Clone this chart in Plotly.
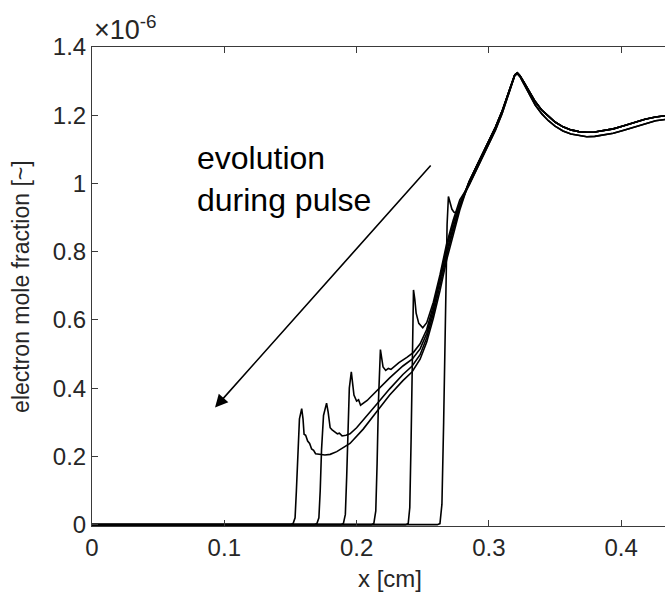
import plotly.graph_objects as go

# ---------------- data (units: 1e-6 mole fraction, x in cm) ----------------
c1_x = [0.0, 0.150, 0.152, 0.1535, 0.1545, 0.1555, 0.1568, 0.1585, 0.1595, 0.1603, 0.1615, 0.163, 0.1645,
        0.166, 0.1675, 0.169, 0.171, 0.173, 0.176, 0.180, 0.185, 0.195, 0.205, 0.215, 0.225, 0.235,
        0.242, 0.248, 0.253, 0.258, 0.263, 0.268, 0.273, 0.278]
c1_y = [0.0, 0.0, 0.003, 0.02, 0.10, 0.22, 0.31, 0.340, 0.31, 0.265, 0.262, 0.245, 0.238,
        0.222, 0.218, 0.208, 0.207, 0.204, 0.204, 0.206, 0.214, 0.238, 0.280, 0.330, 0.380, 0.422,
        0.448, 0.485, 0.535, 0.605, 0.685, 0.775, 0.852, 0.922]

c2_x = [0.0, 0.168, 0.170, 0.1715, 0.1725, 0.1735, 0.1750, 0.1773, 0.1785, 0.180, 0.1815, 0.1837, 0.1855,
        0.187, 0.189, 0.192, 0.195, 0.200, 0.205, 0.215, 0.225, 0.235, 0.242, 0.248, 0.253, 0.258,
        0.263, 0.268, 0.273, 0.278]
c2_y = [0.0, 0.0, 0.003, 0.02, 0.10, 0.22, 0.32, 0.356, 0.33, 0.284, 0.278, 0.270, 0.266,
        0.268, 0.260, 0.262, 0.266, 0.284, 0.306, 0.352, 0.398, 0.440, 0.465, 0.498, 0.548, 0.618,
        0.700, 0.788, 0.862, 0.930]

c3_x = [0.0, 0.188, 0.190, 0.1915, 0.1925, 0.1935, 0.1945, 0.196, 0.197, 0.198, 0.200, 0.2015, 0.203,
        0.2045, 0.206, 0.208, 0.210, 0.215, 0.225, 0.235, 0.242, 0.248, 0.253, 0.258, 0.263, 0.268,
        0.273, 0.278]
c3_y = [0.0, 0.0, 0.003, 0.03, 0.14, 0.28, 0.40, 0.448, 0.42, 0.38, 0.362, 0.366, 0.350,
        0.354, 0.358, 0.364, 0.372, 0.392, 0.430, 0.465, 0.485, 0.515, 0.560, 0.630, 0.712, 0.800,
        0.870, 0.935]

c4_x = [0.0, 0.211, 0.213, 0.2145, 0.2155, 0.2165, 0.218, 0.219, 0.220, 0.222, 0.224, 0.226, 0.229,
        0.232, 0.238, 0.243, 0.248, 0.253, 0.258, 0.263, 0.268, 0.273, 0.278]
c4_y = [0.0, 0.0, 0.003, 0.04, 0.18, 0.36, 0.513, 0.49, 0.462, 0.452, 0.458, 0.455, 0.466,
        0.475, 0.490, 0.505, 0.530, 0.572, 0.642, 0.722, 0.812, 0.882, 0.942]

c5_x = [0.0, 0.237, 0.239, 0.2402, 0.2412, 0.2422, 0.243, 0.244, 0.245, 0.247, 0.250, 0.253, 0.258,
        0.263, 0.268, 0.273, 0.278]
c5_y = [0.0, 0.0, 0.003, 0.05, 0.25, 0.50, 0.688, 0.66, 0.620, 0.590, 0.577, 0.592, 0.652,
        0.732, 0.822, 0.892, 0.952]

c6_x = [0.0, 0.261, 0.263, 0.2645, 0.2658, 0.2672, 0.2684, 0.2694, 0.2705, 0.272, 0.2735, 0.275, 0.277, 0.280]
c6_y = [0.0, 0.0, 0.003, 0.06, 0.30, 0.62, 0.88, 0.962, 0.945, 0.925, 0.916, 0.914, 0.925, 0.955]

# shared ascending part, peak and tail (two slightly offset groups)
tail_x = [0.285, 0.290, 0.295, 0.300, 0.305, 0.310, 0.314, 0.317, 0.3195, 0.3215, 0.3235, 0.326, 0.330,
          0.335, 0.340, 0.345, 0.350, 0.356, 0.362, 0.368, 0.374, 0.380, 0.386, 0.394, 0.402, 0.410,
          0.418, 0.426, 0.434]
tail_hi = [1.005, 1.045, 1.085, 1.125, 1.165, 1.212, 1.257, 1.292, 1.318, 1.324, 1.316, 1.300, 1.272,
           1.240, 1.215, 1.196, 1.180, 1.166, 1.157, 1.152, 1.150, 1.151, 1.154, 1.160, 1.169, 1.179,
           1.188, 1.195, 1.199]
tail_lo = [0.995, 1.035, 1.075, 1.115, 1.157, 1.205, 1.252, 1.289, 1.316, 1.322, 1.313, 1.295, 1.265,
           1.230, 1.204, 1.184, 1.168, 1.154, 1.145, 1.140, 1.137, 1.138, 1.141, 1.147, 1.156, 1.166,
           1.176, 1.184, 1.188]

x_ticks = [0, 0.1, 0.2, 0.3, 0.4]
x_tick_text = ["0", "0.1", "0.2", "0.3", "0.4"]
y_ticks = [0, 0.2, 0.4, 0.6, 0.8, 1.0, 1.2, 1.4]
y_tick_text = ["0", "0.2", "0.4", "0.6", "0.8", "1", "1.2", "1.4"]

curves = [(c1_x, c1_y, tail_hi), (c2_x, c2_y, tail_hi), (c3_x, c3_y, tail_hi),
          (c4_x, c4_y, tail_hi), (c5_x, c5_y, tail_lo), (c6_x, c6_y, tail_lo)]

FONT = "Liberation Sans, Arial, Helvetica, sans-serif"
AX = "#3a3a3a"
TXT = "#262626"

fig = go.Figure()
for cx, cy, tail in curves:
    fig.add_trace(go.Scatter(x=cx + tail_x, y=cy + tail, mode="lines",
                             line=dict(color="black", width=1.6), showlegend=False,
                             hoverinfo="skip"))

W, H = 665, 592
L, R, T, B = 92, 0, 47, 66
x_max = (W - L - R) / 1323.0

fig.update_layout(
    width=W, height=H,
    margin=dict(l=L, r=R, t=T, b=B),
    paper_bgcolor="white", plot_bgcolor="white",
    font=dict(family=FONT, size=24, color=TXT),
    xaxis=dict(range=[0, x_max], tickvals=x_ticks, ticktext=x_tick_text,
               showgrid=False, zeroline=False, showline=True, linecolor=AX, linewidth=1,
               mirror="ticks", ticks="inside", ticklen=6, tickcolor=AX,
               tickfont=dict(size=24, color=TXT)),
    yaxis=dict(range=[-0.004, 1.4], tickvals=y_ticks, ticktext=y_tick_text,
               showgrid=False, zeroline=False, showline=True, linecolor=AX, linewidth=1,
               mirror=False, ticks="inside", ticklen=6, tickcolor=AX,
               tickfont=dict(size=24, color=TXT)),
)

# axis titles as annotations (original axes extend beyond the visible window)
fig.add_annotation(text="x [cm]", x=0.225, xref="x", y=-0.109, yref="paper",
                   xanchor="center", yanchor="middle", showarrow=False,
                   font=dict(size=24, color=TXT, family=FONT))
fig.add_annotation(text="electron mole fraction [~]", x=-0.125, xref="paper", y=0.5, yref="paper",
                   xanchor="center", yanchor="middle", textangle=-90, showarrow=False,
                   font=dict(size=23, color=TXT, family=FONT))
fig.add_annotation(text="×10<sup>-6</sup>", x=0.0, xref="paper", y=1.0, yref="paper",
                   xanchor="left", yanchor="bottom", showarrow=False, yshift=0,
                   font=dict(size=27, color=TXT, family=FONT))

# arrow + text
fig.add_annotation(x=0.093, y=0.343, ax=0.257, ay=1.057, xref="x", yref="y", axref="x", ayref="y",
                   text="", showarrow=True, arrowhead=2, arrowsize=1.6, arrowwidth=1.6,
                   arrowcolor="black")
fig.add_annotation(text="evolution<br>during pulse", x=0.078, y=1.013, xref="x", yref="y",
                   xanchor="left", yanchor="middle", align="left", showarrow=False,
                   font=dict(size=32, color="black", family=FONT))

fig.write_html("out.html")
